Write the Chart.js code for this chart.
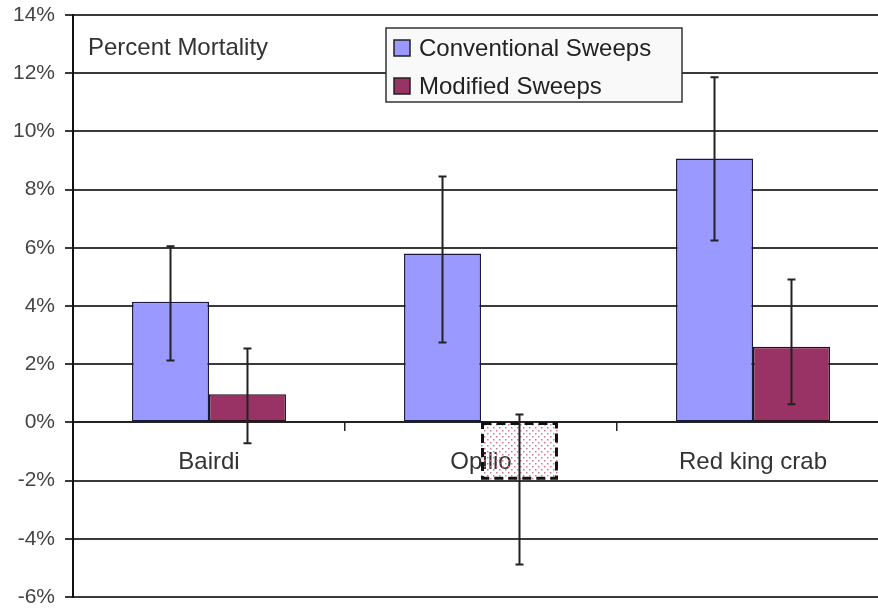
<!DOCTYPE html>
<html>
<head>
<meta charset="utf-8">
<script src="https://cdn.jsdelivr.net/npm/chart.js@4.4.1/dist/chart.umd.min.js"></script>
<style>
  html, body { margin: 0; padding: 0; background: #fff; overflow: hidden; }
  #wrap { width: 890px; height: 609px; }
</style>
</head>
<body>
<div id="wrap"><canvas id="chart"></canvas></div>
<script>
let categories = ["Bairdi", "Opilio", "Red king crab"];
let seriesNames = ["Conventional Sweeps", "Modified Sweeps"];

let conventional = [4.15, 5.8, 9.07];
let convLow = [2.13, 2.75, 6.25];
let convHigh = [6.05, 8.45, 11.86];

let modified = [0.97, -1.97, 2.6];
let modLow = [-0.72, -4.88, 0.62];
let modHigh = [2.54, 0.27, 4.91];

let yTicks = [-6, -4, -2, 0, 2, 4, 6, 8, 10, 12, 14];

const FONT = "'Liberation Sans', Arial, sans-serif";

// dotted pattern for the negative (inverted) bar
function dotPattern() {
  let c = document.createElement("canvas");
  c.width = 6; c.height = 6;
  let g = c.getContext("2d");
  g.fillStyle = "#cc7a9a";
  g.fillRect(1, 1, 1.5, 1.5);
  g.fillRect(4, 4, 1.5, 1.5);
  return g.createPattern(c, "repeat");
}
let pat = dotPattern();

let errors = [[convLow, convHigh], [modLow, modHigh]];

const errorBars = {
  id: "errorBars",
  afterDatasetsDraw(chart) {
    let ctx = chart.ctx;
    let y = chart.scales.y;
    ctx.save();
    // dashed outline on negative modified bars
    chart.getDatasetMeta(1).data.forEach((el, i) => {
      if (modified[i] >= 0) return;
      let w = el.width;
      ctx.setLineDash([9, 5]);
      ctx.lineWidth = 3;
      ctx.strokeStyle = "#111";
      ctx.strokeRect(el.x - w / 2 + 1.5, el.base, w - 3, el.y - el.base - 1.5);
      ctx.setLineDash([]);
    });
    ctx.strokeStyle = "#222";
    ctx.lineWidth = 2;
    errors.forEach((pair, d) => {
      chart.getDatasetMeta(d).data.forEach((el, i) => {
        let lo = y.getPixelForValue(pair[0][i]);
        let hi = y.getPixelForValue(pair[1][i]);
        ctx.beginPath();
        ctx.moveTo(el.x, lo); ctx.lineTo(el.x, hi);
        ctx.moveTo(el.x - 4, lo); ctx.lineTo(el.x + 4, lo);
        ctx.moveTo(el.x - 4, hi); ctx.lineTo(el.x + 4, hi);
        ctx.stroke();
      });
    });
    ctx.restore();
  },
  afterDraw(chart) {
    let ctx = chart.ctx;
    ctx.save();
    // title inside plot
    ctx.font = "24px " + FONT;
    ctx.fillStyle = "#333";
    ctx.textBaseline = "alphabetic";
    ctx.fillText("Percent Mortality", 88, 55);

    // legend box
    let lx = 386, ly = 28, lw = 296, lh = 74;
    ctx.fillStyle = "#f9f9f9";
    ctx.fillRect(lx, ly, lw, lh);
    ctx.strokeStyle = "#333";
    ctx.lineWidth = 1.5;
    ctx.strokeRect(lx, ly, lw, lh);
    let colors = ["#9999ff", "#993366"];
    let rows = [48, 86];
    seriesNames.forEach((name, i) => {
      ctx.fillStyle = colors[i];
      ctx.fillRect(394, rows[i] - 8, 16, 16);
      ctx.strokeStyle = "#222";
      ctx.lineWidth = 1.5;
      ctx.strokeRect(394, rows[i] - 8, 16, 16);
      ctx.fillStyle = "#222";
      ctx.textBaseline = "middle";
      ctx.font = "24px " + FONT;
      ctx.fillText(name, 419, rows[i] + 1);
    });
    ctx.restore();
  }
};

new Chart(document.getElementById("chart"), {
  type: "bar",
  data: {
    labels: categories,
    datasets: [
      {
        label: seriesNames[0],
        data: conventional,
        backgroundColor: "#9999ff",
        borderColor: "#1a1a40",
        borderWidth: 1.5,
        borderSkipped: false
      },
      {
        label: seriesNames[1],
        data: modified,
        backgroundColor: modified.map(v => v < 0 ? pat : "#993366"),
        borderColor: "#2a0f1c",
        borderWidth: modified.map(v => v < 0 ? 0 : 1.5),
        borderSkipped: false
      }
    ]
  },
  options: {
    responsive: true,
    maintainAspectRatio: false,
    animation: false,
    layout: { padding: { top: 15, bottom: 12, left: 0, right: 1 } },
    categoryPercentage: 0.566,
    barPercentage: 1,
    plugins: {
      legend: { display: false },
      tooltip: { enabled: false }
    },
    scales: {
      x: {
        position: { y: 0 },
        afterFit: s => { s.height = 0; s.paddingLeft = 0; s.paddingRight = 0; s.paddingTop = 0; s.paddingBottom = 0; },
        grid: {
          drawOnChartArea: false,
          drawTicks: true,
          tickLength: 8,
          color: "#222",
          lineWidth: 1.5
        },
        border: { display: true, color: "#222", width: 2 },
        ticks: {
          color: "#333",
          padding: 18,
          font: { family: FONT, size: 24 }
        }
      },
      y: {
        min: -6,
        max: 14,
        afterBuildTicks: s => { s.ticks = yTicks.map(v => ({ value: v })); },
        afterFit: s => { s.width = 73; s.paddingTop = 0; s.paddingBottom = 0; },
        grid: {
          color: "#3a3a3a",
          lineWidth: 2,
          tickLength: 8
        },
        border: { display: true, color: "#111", width: 2 },
        ticks: {
          color: "#444",
          padding: 10,
          font: { family: FONT, size: 21 },
          callback: v => v + "%"
        }
      }
    }
  },
  plugins: [errorBars]
});
</script>
</body>
</html>
